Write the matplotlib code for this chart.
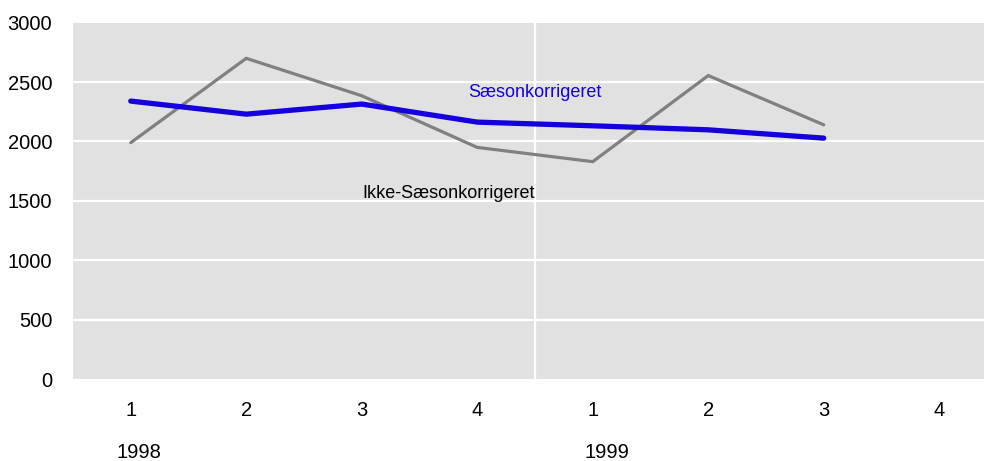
import matplotlib
matplotlib.use("Agg")
import matplotlib.pyplot as plt

plt.rcParams["font.family"] = ["Liberation Sans Narrow", "Liberation Sans", "DejaVu Sans"]

# ------------------------------------------------------------
# data
# ------------------------------------------------------------
quarters = ["1", "2", "3", "4", "1", "2", "3", "4"]
years = ["1998", "1999"]
year_start_idx = [0, 4]

ikke_saeson = [1990, 2700, 2385, 1950, 1830, 2555, 2140]
saeson = [2340, 2230, 2315, 2163, 2132, 2098, 2028]

y_ticks = [0, 500, 1000, 1500, 2000, 2500, 3000]

BG = "#e1e1e1"
BLUE = "#1400dc"
GRAY = "#808080"

fig = plt.figure(figsize=(9.84, 4.61), dpi=100)
ax = fig.add_axes([73 / 984, 1 - 379 / 461, 1 - 73 / 984, (379 - 22.7) / 461])
ax.set_facecolor(BG)

xs_gray = list(range(len(ikke_saeson)))
xs_blue = list(range(len(saeson)))

# grid lines
for v in y_ticks[1:-1]:
    ax.axhline(v, color="white", linewidth=1.6, zorder=1)
ax.axvline(3.5, color="white", linewidth=1.6, zorder=1)

ax.plot(xs_gray, ikke_saeson, color=GRAY, linewidth=2.3, zorder=2,
        solid_capstyle="round", solid_joinstyle="miter")
ax.plot(xs_blue, saeson, color=BLUE, linewidth=3.8, zorder=3,
        solid_capstyle="round", solid_joinstyle="miter")

ax.text(3.5, 2410, "Sæsonkorrigeret", color=BLUE, fontsize=13,
        ha="center", va="center")
ax.text(2.75, 1565, "Ikke-Sæsonkorrigeret", color="black", fontsize=13,
        ha="center", va="center")

ax.set_xlim(-0.5, (984 - 73) / 115.5 - 0.5)
ax.set_ylim(0, 3000)
ax.set_yticks(y_ticks)
ax.set_yticklabels([str(v) for v in y_ticks], fontsize=14.5)
ax.set_xticks(range(len(quarters)))
ax.set_xticklabels(quarters, fontsize=14.5)
ax.tick_params(axis="both", length=0)
ax.tick_params(axis="x", pad=16)
ax.tick_params(axis="y", pad=15)
for s in ax.spines.values():
    s.set_visible(False)

for yr, idx in zip(years, year_start_idx):
    ax.text(idx + 0.07 + 0.05 * (idx > 0), -0.205, yr, fontsize=14.5,
            ha="center", va="center",
            transform=ax.get_xaxis_transform())

fig.savefig("out.png", dpi=100)
